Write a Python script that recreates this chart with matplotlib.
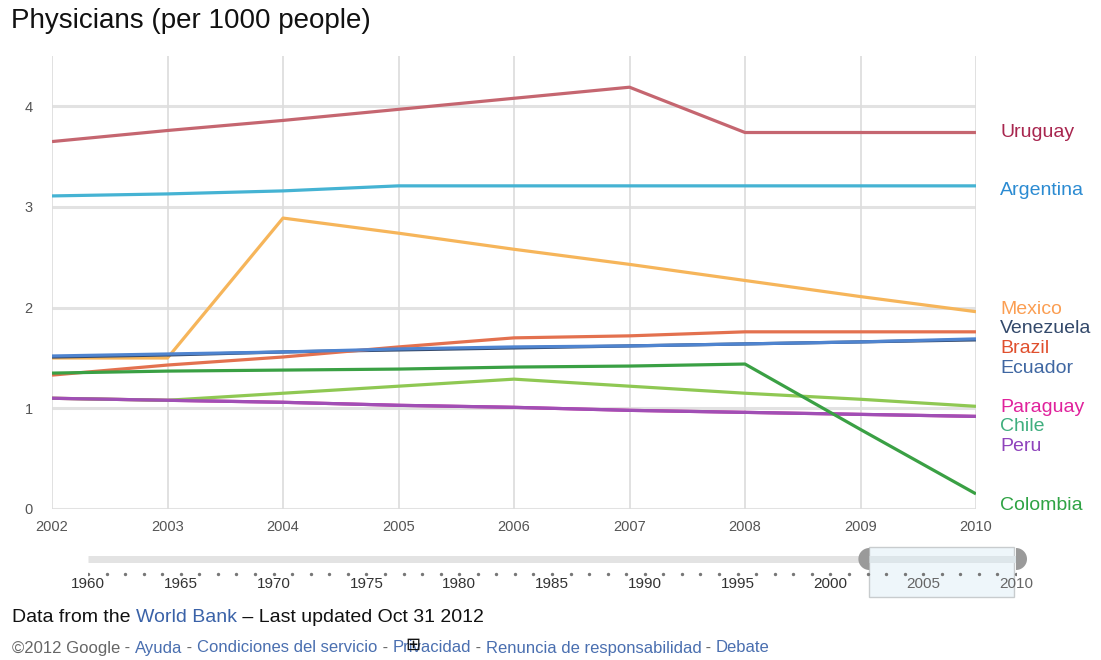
import numpy as np
import matplotlib.pyplot as plt
from matplotlib.patches import Rectangle, Polygon

plt.rcParams['font.family'] = ['Liberation Sans', 'DejaVu Sans']

# data (physicians per 1000 people)
years = [2002, 2003, 2004, 2005, 2006, 2007, 2008, 2009, 2010]
uruguay = [3.65, 3.76, 3.86, 3.97, 4.08, 4.19, 3.74, 3.74, 3.74]
argentina = [3.11, 3.13, 3.16, 3.21, 3.21, 3.21, 3.21, 3.21, 3.21]
mexico = [1.50, 1.50, 2.89, 2.74, 2.58, 2.43, 2.27, 2.11, 1.96]
venezuela = [1.51, 1.53, 1.56, 1.58, 1.60, 1.62, 1.64, 1.66, 1.68]
ecuador = [1.52, 1.54, 1.56, 1.59, 1.61, 1.62, 1.64, 1.66, 1.69]
brazil = [1.33, 1.43, 1.51, 1.61, 1.70, 1.72, 1.76, 1.76, 1.76]
colombia = [1.35, 1.37, 1.38, 1.39, 1.41, 1.42, 1.44, 0.79, 0.15]
chile = [1.10, 1.08, 1.15, 1.22, 1.29, 1.22, 1.15, 1.09, 1.02]
paraguay = [1.10, 1.08, 1.06, 1.03, 1.01, 0.98, 0.96, 0.94, 0.92]
peru = [1.10, 1.08, 1.06, 1.03, 1.01, 0.98, 0.96, 0.94, 0.92]

countries = ['Uruguay', 'Argentina', 'Mexico', 'Venezuela', 'Brazil', 'Ecuador',
             'Paraguay', 'Chile', 'Peru', 'Colombia']
series = [uruguay, argentina, mexico, venezuela, brazil, ecuador,
          paraguay, chile, peru, colombia]
line_colors = ['#c56670', '#45b3d3', '#f6b55a', '#34496b', '#e3714f', '#4f84cf',
               '#d0309a', '#8fc853', '#a04fb5', '#3aa044']
label_colors = ['#a8264f', '#2b8bd2', '#fb9e52', '#33496b', '#e0502e', '#3f67a2',
                '#e0229c', '#3fae7e', '#8f44bc', '#2fa344']
# where the names sit on the right (layout, spread out to avoid overlap)
label_y = [3.74, 3.16, 1.98, 1.79, 1.59, 1.40, 1.01, 0.82, 0.62, 0.03]

slider_years = list(range(1960, 2011))
slider_labels = list(range(1960, 2011, 5))

fig = plt.figure(figsize=(11.01, 6.6), dpi=100)

fig.text(11 / 1101, 1 - 21 / 660, 'Physicians (per 1000 people)', fontsize=20,
         color='#111111', va='center', ha='left')

ax = fig.add_axes([52 / 1101, 1 - 509 / 660, 924 / 1101, 453 / 660])
ax.set_xlim(2002, 2010)
ax.set_ylim(0, 4.5)
for y in range(0, 5):
    ax.axhline(y, color='#e2e2e2', lw=2.2, zorder=0)
for x in years:
    ax.axvline(x, color='#dcdcdc', lw=1.2, zorder=0)

for vals, c in zip(series, line_colors):
    ax.plot(years, vals, color=c, lw=2.3, solid_capstyle='butt', zorder=2)

for name, c, ly in zip(countries, label_colors, label_y):
    ax.text(2010 + 24 / 115.5, ly, name, color=c, fontsize=14, va='center',
            ha='left', clip_on=False)

for s in ax.spines.values():
    s.set_visible(False)
ax.set_xticks(years)
ax.set_xticklabels([str(y) for y in years])
ax.set_yticks(range(0, 5))
ax.tick_params(length=0, labelsize=10.5, colors='#555555')
ax.tick_params(axis='x', pad=8)
ax.tick_params(axis='y', pad=14)

# timeline slider underneath (1 y-unit = 1 px, 1 year = ~18.56 px)
sx = fig.add_axes([88 / 1101, 1 - 600 / 660, 928 / 1101, 55 / 660])
sx.set_xlim(1960, 2010)
sx.set_ylim(0, 55)
sx.axis('off')
px = 50 / 928  # one pixel in years
sx.plot([1960, 2010], [41, 41], color='#e3e3e3', lw=5, solid_capstyle='butt')
sx.add_patch(Rectangle((2002.1, 3), 7.8, 50, facecolor='#eef6fa',
                       edgecolor='#c8ccce', lw=1, zorder=1))
sx.plot([2002.1, 2009.9], [41, 41], color='#dde6ea', lw=5, zorder=2)


def handle(cx, side):
    # half-disc grip; side=-1 bulges left, side=1 bulges right
    th = np.linspace(-np.pi / 2, np.pi / 2, 40)
    xs = cx + side * 11 * px * np.cos(th)
    ys = 41 + 11 * np.sin(th)
    sx.add_patch(Polygon(np.column_stack([xs, ys]), closed=True, facecolor='#9a9a9a',
                         edgecolor='none', zorder=3, clip_on=False))


handle(2002.1, -1)
handle(2010.0, 1)
sx.scatter(slider_years, [26] * len(slider_years), s=2, color='#777777', zorder=4)
for yr in slider_labels:
    sx.text(yr, 16, str(yr), fontsize=11, color='#333333' if yr < 2005 else '#666666',
            ha='center', va='center', zorder=4)

# footer
t1 = fig.text(12 / 1101, 1 - 617 / 660, 'Data from the ', fontsize=14,
              color='#111111', va='center', ha='left')
fig.canvas.draw()
r = fig.canvas.get_renderer()
bb = t1.get_window_extent(r)
t2 = fig.text(bb.x1 / 1101, 1 - 617 / 660, 'World Bank', fontsize=14,
              color='#3a62a8', va='center', ha='left')
bb = t2.get_window_extent(r)
fig.text(bb.x1 / 1101, 1 - 617 / 660, ' \u2013 Last updated Oct 31 2012', fontsize=14,
         color='#111111', va='center', ha='left')

parts = [('\u00a92012 Google', '#666666'), (' - ', '#666666'), ('Ayuda', '#4a6fb0'),
         (' - ', '#666666'), ('Condiciones del servicio', '#4a6fb0'), (' - ', '#666666'),
         ('Privacidad', '#4a6fb0'), (' - ', '#666666'),
         ('Renuncia de responsabilidad', '#4a6fb0'), (' - ', '#666666'),
         ('Debate', '#4a6fb0')]
xpos = 12
for txt, c in parts:
    t = fig.text(xpos / 1101, 1 - 648 / 660, txt, fontsize=12, color=c,
                 va='center', ha='left')
    xpos = t.get_window_extent(r).x1
    if txt == 'Privacidad':
        fig.text((t.get_window_extent(r).x0 + 13) / 1101, 1 - 645 / 660, '\u229e',
                 fontsize=13, color='#111111', va='center', ha='left',
                 family='DejaVu Sans')

fig.savefig('out.png', dpi=100, facecolor='white')
